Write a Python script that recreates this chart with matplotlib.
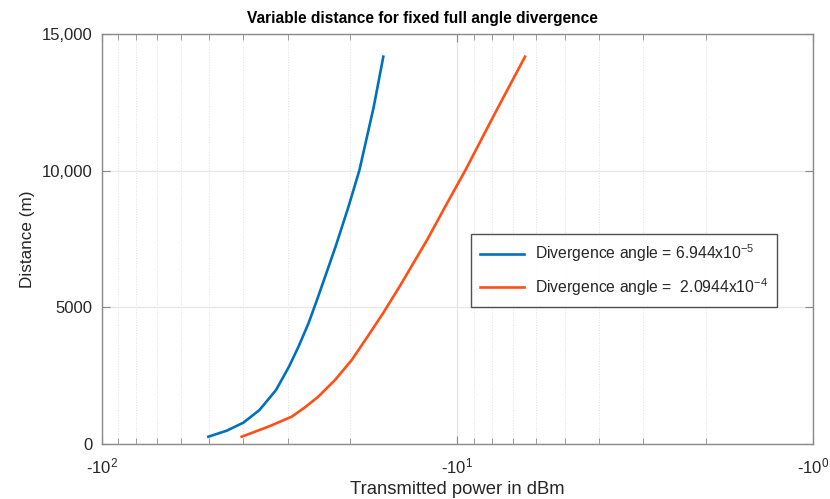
import numpy as np
import matplotlib
matplotlib.use('Agg')
import matplotlib.pyplot as plt
from matplotlib.ticker import FixedLocator, FuncFormatter

# values (power in dBm, distance in m)
blue_power = [-50.22, -44.59, -40.05, -36.06, -32.39, -29.79, -28.01, -26.25,
              -24.85, -23.75, -22.03, -20.26, -18.87, -17.20, -16.17]
blue_dist = [267, 487, 779, 1244, 1976, 2828, 3560, 4416,
             5268, 6000, 7218, 8682, 10024, 12340, 14169]
orange_power = [-40.46, -34.06, -29.27, -26.85, -24.64, -22.11, -19.84, -17.91,
                -16.20, -14.56, -12.18, -10.70, -9.495, -7.845, -6.458]
orange_dist = [267, 633, 999, 1343, 1731, 2341, 3073, 3926,
               4782, 5755, 7463, 8806, 10024, 12099, 14169]
labels = [r'Divergence angle = 6.944x10$^{-5}$',
          r'Divergence angle =  2.0944x10$^{-4}$']
y_ticks = [0, 5000, 10000, 15000]
y_ticklabels = ['0', '5000', '10,000', '15,000']

plt.rcParams['font.family'] = ['Liberation Sans', 'DejaVu Sans']
plt.rcParams['mathtext.default'] = 'regular'

fig = plt.figure(figsize=(8.3, 4.99), dpi=100)
ax = fig.add_axes([0.1229, 0.1102, 0.8566, 0.8217])

# negative dBm on a log axis: plot magnitude, axis runs from -100 to -1
ax.plot(-np.asarray(blue_power), blue_dist, color='#0072BD', lw=1.9,
        solid_joinstyle='round', label=labels[0])
ax.plot(-np.asarray(orange_power), orange_dist, color='#FF4F14', lw=1.9,
        solid_joinstyle='round', label=labels[1])

ax.set_xscale('log')
ax.set_xlim(100, 1)
ax.set_ylim(0, 15000)

ax.xaxis.set_major_locator(FixedLocator([100, 10, 1]))
ax.xaxis.set_minor_locator(FixedLocator([k * 10.0 ** e for e in (0, 1) for k in range(2, 10)]))
ax.xaxis.set_major_formatter(FuncFormatter(
    lambda v, p: r'-10$^{%d}$' % round(np.log10(v))))
ax.xaxis.set_minor_formatter(FuncFormatter(lambda v, p: ''))
ax.set_yticks(y_ticks)
ax.set_yticklabels(y_ticklabels)

ax.tick_params(which='both', direction='in', top=True, right=True,
               colors='#262626', labelsize=12)
ax.tick_params(axis='x', which='major', pad=9)
ax.tick_params(axis='y', which='major', pad=7)
ax.tick_params(which='major', length=6, color='#8a8a8a')
ax.tick_params(which='minor', length=4, color='#8a8a8a')
for s in ax.spines.values():
    s.set_color('#8a8a8a')
    s.set_linewidth(1.0)

ax.grid(which='major', color='#e6e6e6', lw=0.9)
ax.grid(which='minor', axis='x', color='#e2e2e2', lw=0.7, ls=':')
ax.set_axisbelow(True)

ax.set_xlabel('Transmitted power in dBm', fontsize=13.3, color='#262626', labelpad=3)
ax.set_ylabel('Distance (m)', fontsize=12.3, color='#262626', labelpad=5)
ax.text(0.45, 1.02, 'Variable distance for fixed full angle divergence',
        transform=ax.transAxes, ha='center', va='bottom',
        fontsize=11.2, fontweight='bold', color='black')

leg = ax.legend(loc='upper left', bbox_to_anchor=(0.519, 0.512), borderaxespad=0,
                fontsize=11.3, frameon=True, fancybox=False, handlelength=2.8,
                handletextpad=0.75, borderpad=0.55, labelspacing=0.75)
leg.get_frame().set_edgecolor('#262626')
leg.get_frame().set_linewidth(1.0)
for t in leg.get_texts():
    t.set_color('#262626')

fig.savefig('out.png', dpi=100)
